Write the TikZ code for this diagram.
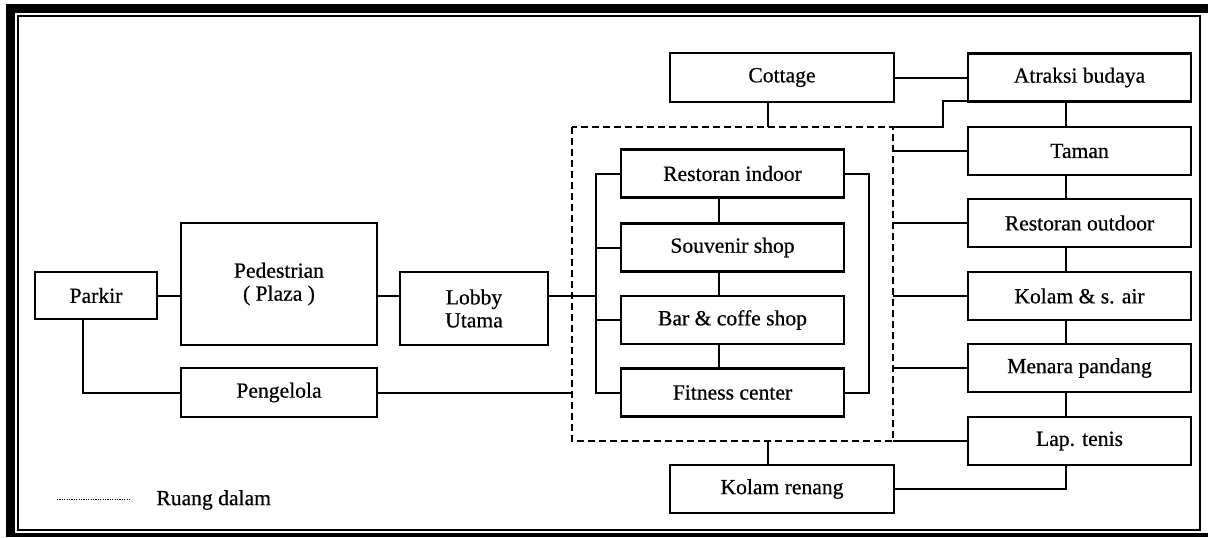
\documentclass[tikz,border=0pt]{standalone}
\usepackage{fontspec}
\setmainfont{Liberation Serif}[FakeBold=0.6]
\begin{document}
\begin{tikzpicture}[x=0.5pt,y=-0.5pt,
  box/.style={draw, line width=1.1pt, inner sep=0pt, align=center,
    font=\fontsize{10.8}{11.5}\selectfont},
  colbox/.style={box, minimum width=111.5pt, minimum height=24pt},
  link/.style={line width=1pt},
  frame/.style={line width=0.9pt},
  inner/.style={line width=1pt, dash pattern=on 3.5pt off 2pt},
  legend/.style={line width=0.5pt, dash pattern=on 0.6pt off 0.6pt}
]
\useasboundingbox (0,0) rectangle (1208,537);
% outer frame
\draw[line width=4.5pt] (6,8.5) -- (1208,8.5);
\draw[line width=4.5pt] (10.5,4) -- (10.5,537);
\draw[line width=2pt] (6,535) -- (1208,535);
\draw[frame] (18,16) rectangle (1200,530);

% coordinates
\coordinate (dTL) at (572,127);
\coordinate (dBR) at (893,441);
\coordinate (busL) at (596,0);
\coordinate (busR) at (869,0);
\coordinate (mv) at (719,0);
\coordinate (cv) at (768,0);
\coordinate (rv) at (1066,0);
\coordinate (pv) at (83,0);
\coordinate (row) at (0,296);
\coordinate (ak) at (943,101);

% nodes
\node[box, minimum width=61pt, minimum height=23.5pt] (parkir) at (96,295.5) {Parkir};
\node[box, minimum width=98pt, minimum height=61pt] (ped) at (279,284) {Pedestrian\\( Plaza )};
\node[box, minimum width=74pt, minimum height=36.5pt] (lobby) at (474,308.5) {Lobby\\Utama};
\node[box, minimum width=98pt, minimum height=24.5pt] (peng) at (279,392.5) {Pengelola};

\node[colbox] (resin) at (732.5,173.5) {Restoran indoor};
\node[colbox] (souv) at (732.5,247.5) {Souvenir shop};
\node[colbox] (bar) at (732.5,320) {Bar \& coffe shop};
\node[colbox] (fit) at (732.5,392.5) {Fitness center};

\node[box, minimum width=112pt, minimum height=24.5pt] (cottage) at (782,77.5) {Cottage};
\node[box, minimum width=112pt, minimum height=24pt] (kolren) at (782,489) {Kolam renang};

\node[colbox] (atraksi) at (1079.5,77.5) {Atraksi budaya};
\node[colbox] (taman) at (1079.5,151) {Taman};
\node[colbox] (resout) at (1079.5,223) {Restoran outdoor};
\node[colbox] (kolam) at (1079.5,296) {Kolam \& s. air};
\node[colbox] (menara) at (1079.5,368) {Menara pandang};
\node[colbox] (tenis) at (1079.5,441) {Lap. tenis};

% inner zone
\draw[inner] (dTL) rectangle (dBR);

% left part links
\draw[link] (parkir.east) -- (parkir.east -| ped.west);
\draw[link] (ped.east |- row) -- (lobby.west |- row);
\draw[link] (lobby.east |- row) -- (busL |- row);
\draw[link] (pv |- parkir.south) -- (pv |- peng.west) -- (peng.west);
\draw[link] (peng.east) -- (peng.east -| dTL);

% middle buses
\draw[link] (resin.west) -- (busL |- resin.west) -- (busL |- fit.west) -- (fit.west);
\draw[link] (souv.west) -- (souv.west -| busL);
\draw[link] (bar.west) -- (bar.west -| busL);
\draw[link] (resin.east) -- (resin.east -| busR) -- (busR |- fit.east) -- (fit.east);
\draw[link] (mv |- resin.south) -- (mv |- souv.north);
\draw[link] (mv |- souv.south) -- (mv |- bar.north);
\draw[link] (mv |- bar.south) -- (mv |- fit.north);

% top
\draw[link] (cottage.east) -- (atraksi.west);
\draw[link] (cv |- cottage.south) -- (cv |- dTL);
\draw[link] (dBR |- dTL) -- (ak |- dTL) -- (ak) -- (ak -| atraksi.west);

% right column
\draw[link] (dBR |- taman.west) -- (taman.west);
\draw[link] (dBR |- resout.west) -- (resout.west);
\draw[link] (dBR |- kolam.west) -- (kolam.west);
\draw[link] (dBR |- menara.west) -- (menara.west);
\draw[link] (dBR) -- (tenis.west);
\draw[link] (rv |- atraksi.south) -- (rv |- taman.north);
\draw[link] (rv |- taman.south) -- (rv |- resout.north);
\draw[link] (rv |- resout.south) -- (rv |- kolam.north);
\draw[link] (rv |- kolam.south) -- (rv |- menara.north);
\draw[link] (rv |- menara.south) -- (rv |- tenis.north);

% bottom
\draw[link] (cv |- dBR) -- (cv |- kolren.north);
\draw[link] (kolren.east) -- (kolren.east -| rv) -- (rv |- tenis.south);

% legend
\coordinate (lg1) at (57,499);
\coordinate (lg2) at (130,499);
\draw[legend] (lg1) -- (lg2);
\node[anchor=west, inner sep=0pt, font=\fontsize{10.8}{12}\selectfont] (lgt) at (156,500) {Ruang dalam};
\end{tikzpicture}
\end{document}
